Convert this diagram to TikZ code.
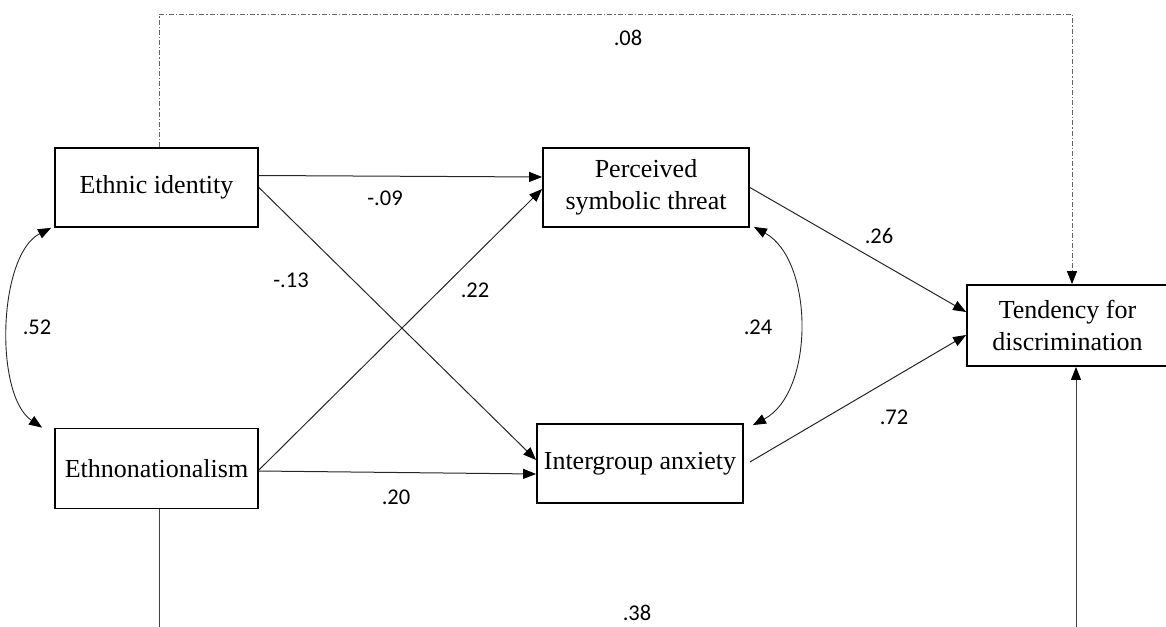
\documentclass[tikz,border=0pt]{standalone}
\usepackage{fontspec}
\setmainfont{Liberation Serif}
\newfontfamily\labfont{Carlito}
\usetikzlibrary{arrows.meta}
\begin{document}
\begin{tikzpicture}[x=1pt,y=-1pt,
  box/.style={draw=black,line width=1.8pt,fill=white,align=center,inner sep=0pt,
    font=\fontsize{26}{32}\selectfont},
  conn/.style={line width=1pt,draw=black!85,-{Triangle[length=13pt,width=10pt,color=black]}},
  biconn/.style={line width=0.9pt,draw=black!85,{Triangle[length=13pt,width=10pt,color=black]}-{Triangle[length=13pt,width=10pt,color=black]}},
  dd/.style={line width=0.9pt,draw=black!60,dash pattern=on 5pt off 2pt on 1.2pt off 2pt},
  lab/.style={font=\labfont\fontsize{22.5}{26}\selectfont,inner sep=0pt,text=black}
]
\useasboundingbox (0,0) rectangle (1166,626);
% boxes
\node[box,minimum width=203pt,minimum height=79pt] (ethnic) at (156.5,187.5) {Ethnic identity};
\node[box,minimum width=203pt,minimum height=80pt] (ethno) at (156.5,468.5) {Ethnonationalism};
\node[box,minimum width=206pt,minimum height=79pt] (perc) at (646,187.5) {Perceived\\symbolic threat};
\node[box,minimum width=206pt,minimum height=79pt] (inter) at (640,463.5) {Intergroup anxiety};
\node[box,minimum width=201pt,minimum height=81pt] (tend) at (1067.5,325.5) {Tendency for\\discrimination};
% direct paths
\draw[conn] ([yshift=12pt]ethnic.east) -- ([yshift=10.5pt]perc.west);
\draw[conn] (ethnic.east) -- ([yshift=3.5pt]inter.west);
\draw[conn] ([yshift=-1.5pt]ethno.east) -- ([yshift=-1.5pt]perc.west);
\draw[conn] ([yshift=-2.5pt]ethno.east) -- ([yshift=-10.5pt]inter.west);
\draw[conn] (perc.east) -- ([yshift=13.5pt]tend.west);
\draw[conn] ([xshift=6pt,yshift=1.5pt]inter.east) -- ([yshift=-9.5pt]tend.west);
% covariances
\draw[biconn] ([xshift=-3pt]ethnic.south west) .. controls (-2,255) and (-6,395) .. ([xshift=-12pt]ethno.north west);
\draw[biconn] ([xshift=4pt,yshift=1pt]perc.south east) .. controls (814,260) and (815,392) .. ([xshift=9pt,yshift=-2pt]inter.north east);
% dash-dot direct path
\coordinate (dA) at ([xshift=2.5pt]ethnic.north);
\coordinate (dB) at ([xshift=4.5pt]tend.north);
\coordinate (dtop) at (600,14);
\draw[dd,-{Triangle[length=13pt,width=10pt,color=black]}] (dA) -- (dA |- dtop) -| (dB);
% bottom path (cut off at the image edge)
\coordinate (bA) at ([xshift=2.5pt]ethno.south);
\coordinate (bB) at ([xshift=8.5pt]tend.south);
\coordinate (bbot) at (600,630);
\draw[line width=1pt,draw=black!75] (bA) -- (bA |- bbot);
\draw[line width=1pt,draw=black!75,-{Triangle[length=13pt,width=10pt,color=black]}] (bB |- bbot) -- (bB);
% labels
\node[lab] (l08) at (628,38) {.08};
\node[lab] (l09) at (385,198) {-.09};
\node[lab] (l13) at (291,280) {-.13};
\node[lab] (l22) at (475,290) {.22};
\node[lab] (l52) at (37,327) {.52};
\node[lab] (l24) at (758,327) {.24};
\node[lab] (l26) at (879,236) {.26};
\node[lab] (l72) at (894,417) {.72};
\node[lab] (l20) at (396,497) {.20};
\node[lab] (l38) at (637,613) {.38};
\end{tikzpicture}
\end{document}
